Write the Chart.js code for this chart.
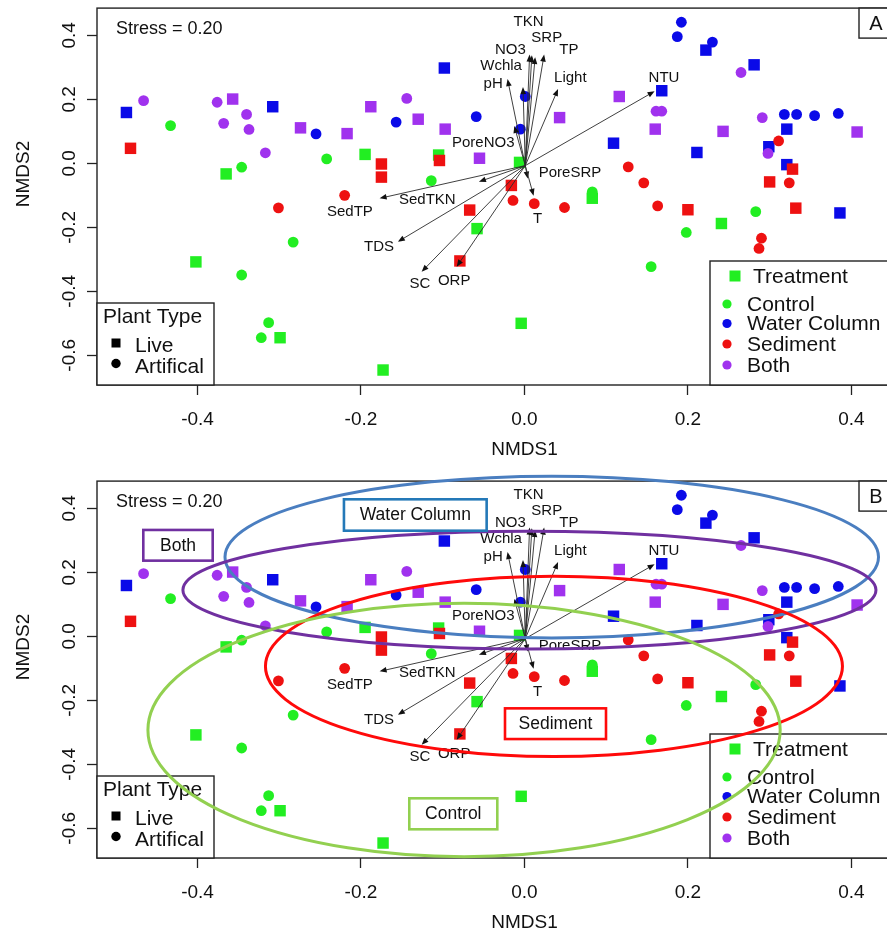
<!DOCTYPE html>
<html><head><meta charset="utf-8">
<script src="https://cdn.jsdelivr.net/npm/chart.js@4.4.1/dist/chart.umd.min.js"></script>
<style>
html,body{margin:0;padding:0;background:#fff;overflow:hidden;}
.wrap{position:absolute;left:0;width:887px;overflow:hidden;}
canvas{display:block;}
</style></head><body>
<div class="wrap" style="top:0;height:473px;"><canvas id="cA" width="960" height="473"></canvas></div>
<div class="wrap" style="top:473px;height:462px;"><canvas id="cB" width="960" height="462"></canvas></div>
<script>
// ---------------- DATA ----------------
const TREATMENTS = ['Control', 'Water Column', 'Sediment', 'Both'];
const PLANT_TYPES = ['Live', 'Artifical'];
const X_TICKS = [-0.4, -0.2, 0.0, 0.2, 0.4];
const X_TICK_LABELS = ['-0.4', '-0.2', '0.0', '0.2', '0.4'];
const Y_TICKS = [-0.6, -0.4, -0.2, 0.0, 0.2, 0.4];
const Y_TICK_LABELS = ['-0.6', '-0.4', '-0.2', '0.0', '0.2', '0.4'];
const STRESS = '0.20';

const controlLive = [[-0.365,-0.033],[-0.195,0.028],[-0.105,0.026],[-0.006,0.003],[-0.058,-0.204],[0.083,-0.109],[0.241,-0.188],[-0.402,-0.308],[-0.299,-0.545],[-0.173,-0.646],[-0.004,-0.500]];
const controlArtifical = [[-0.433,0.118],[-0.346,-0.012],[-0.242,0.014],[-0.114,-0.054],[0.083,-0.089],[-0.283,-0.246],[-0.346,-0.349],[-0.313,-0.498],[-0.322,-0.545],[0.283,-0.151],[0.198,-0.216],[0.155,-0.323]];
const waterLive = [[-0.487,0.159],[-0.308,0.177],[-0.098,0.298],[0.168,0.227],[0.222,0.354],[0.281,0.308],[0.109,0.063],[0.211,0.034],[0.321,0.107],[0.299,0.052],[0.321,-0.004],[0.386,-0.155]];
const waterArtifical = [[-0.255,0.092],[-0.157,0.129],[-0.059,0.146],[0.001,0.209],[-0.005,0.107],[0.192,0.441],[0.187,0.396],[0.230,0.379],[0.318,0.153],[0.333,0.153],[0.355,0.149],[0.384,0.156]];
const sedimentLive = [[-0.482,0.047],[-0.175,-0.002],[-0.175,-0.043],[-0.104,0.009],[-0.016,-0.069],[-0.067,-0.146],[-0.079,-0.305],[0.200,-0.145],[0.300,-0.058],[0.328,-0.018],[0.332,-0.140]];
const sedimentArtifical = [[-0.220,-0.100],[-0.301,-0.139],[-0.014,-0.116],[0.012,-0.126],[0.049,-0.138],[0.127,-0.011],[0.146,-0.061],[0.163,-0.133],[0.311,0.070],[0.324,-0.061],[0.290,-0.234],[0.287,-0.266]];
const bothLive = [[-0.357,0.201],[-0.274,0.111],[-0.217,0.093],[-0.188,0.177],[-0.130,0.138],[-0.097,0.107],[-0.055,0.016],[0.043,0.143],[0.116,0.209],[0.160,0.107],[0.243,0.100],[0.407,0.098]];
const bothArtifical = [[-0.466,0.196],[-0.376,0.191],[-0.340,0.153],[-0.368,0.125],[-0.337,0.106],[-0.317,0.033],[-0.144,0.203],[0.161,0.163],[0.168,0.163],[0.265,0.284],[0.291,0.143],[0.298,0.031]];

// environmental fit vectors
const ENV_VARS  = ['TKN','NO3','SRP','TP','Wchla','pH','Light','NTU','PoreNO3','PoreSRP','T','SedTKN','SedTP','TDS','SC','ORP'];
const ENV_ORIGIN = [0.001, -0.007];
const ENV_X = [0.0091, 0.0063, 0.0131, 0.0241, -0.0018, -0.0207, 0.0411, 0.1592, -0.0124, 0.0040, 0.0112, -0.0557, -0.1772, -0.1549, -0.1258, -0.0829];
const ENV_Y = [0.3380, 0.3400, 0.3320, 0.3400, 0.2384, 0.2634, 0.2322, 0.2253, 0.1166, -0.0475, -0.1013, -0.0575, -0.1094, -0.2450, -0.3388, -0.3231];
const ENV_LABEL_X = [0.0051, -0.0173, 0.0273, 0.0544, -0.0286, -0.0383, 0.0561, 0.1707, -0.0504, 0.0557, 0.0160, -0.1188, -0.2136, -0.1780, -0.1280, -0.0860];
const ENV_LABEL_Y = [0.4425, 0.3540, 0.3925, 0.3560, 0.3040, 0.2500, 0.2666, 0.2675, 0.0644, -0.0310, -0.1750, -0.1147, -0.1510, -0.2600, -0.3770, -0.3670];

// group ellipses (panel B): Water Column, Both, Sediment, Control
const ELLIPSE_GROUPS = ['Water Column', 'Both', 'Sediment', 'Control'];
const ELLIPSE_CX = [0.0334, 0.0061, 0.0361, -0.0739];
const ELLIPSE_CY = [0.2478, 0.1447, -0.0938, -0.2928];
const ELLIPSE_RX = [0.3998, 0.4240, 0.3530, 0.3868];
const ELLIPSE_RY = [0.2530, 0.1840, 0.2820, 0.3960];

// ---------------- STYLE / LAYOUT ----------------
const FONT = '"Liberation Sans", Arial, Helvetica, sans-serif';
const TEXT = '#111';
const COL = {'Control':'#22ee22', 'Water Column':'#0a0ae8', 'Sediment':'#ee1111', 'Both':'#a032ee'};
const ELL_COL = {'Water Column':'#4a7ec0', 'Both':'#7030a0', 'Sediment':'#ff0a0a', 'Control':'#92d050'};
const BOX_COL = {'Water Column':'#2479b8', 'Both':'#7030a0', 'Sediment':'#ff0a0a', 'Control':'#92d050'};
// group label boxes (pixel layout in panel B): [cx, cy, w, h]
const GROUP_BOXES = {'Water Column':[415.3,42,142.7,31.4], 'Both':[178,72.3,69.4,30.7], 'Sediment':[555.5,250.7,101,30.7], 'Control':[453.3,340.8,88,31]};

const X_MIN = -0.523, X_MAX = 0.523, Y_MIN = -0.6928, Y_MAX = 0.4853;

function txt(ctx, s, px, py, size, align, rot) {
  ctx.save();
  ctx.font = size + 'px ' + FONT;
  ctx.fillStyle = TEXT;
  ctx.textAlign = align || 'center';
  ctx.textBaseline = 'middle';
  ctx.translate(px, py);
  if (rot) ctx.rotate(rot);
  ctx.fillText(s, 0, 0);
  ctx.restore();
}

const nmdsPlugin = {
  id: 'nmds',
  afterDatasetsDraw(chart) {
    const {ctx, scales: {x, y}} = chart;
    const ox = x.getPixelForValue(ENV_ORIGIN[0]), oy = y.getPixelForValue(ENV_ORIGIN[1]);
    ctx.save();
    ctx.strokeStyle = '#2a2a2a'; ctx.fillStyle = '#111'; ctx.lineWidth = 0.9;
    ENV_VARS.forEach((n, i) => {
      const tx = x.getPixelForValue(ENV_X[i]), ty = y.getPixelForValue(ENV_Y[i]);
      const ang = Math.atan2(ty - oy, tx - ox);
      const L = 7, W = 2.8, c = Math.cos(ang), s = Math.sin(ang);
      ctx.beginPath(); ctx.moveTo(ox, oy); ctx.lineTo(tx - L * 0.6 * c, ty - L * 0.6 * s); ctx.stroke();
      ctx.beginPath();
      ctx.moveTo(tx, ty);
      ctx.lineTo(tx - L * c + W * s, ty - L * s - W * c);
      ctx.lineTo(tx - L * c - W * s, ty - L * s + W * c);
      ctx.closePath(); ctx.fill();
    });
    ctx.restore();
    ENV_VARS.forEach((n, i) => txt(ctx, n, x.getPixelForValue(ENV_LABEL_X[i]), y.getPixelForValue(ENV_LABEL_Y[i]), 15));
  },
  afterDraw(chart, args, opts) {
    const {ctx, chartArea: a, scales: {x, y}} = chart;
    // plot box
    ctx.save();
    ctx.strokeStyle = '#222'; ctx.lineWidth = 1.4;
    ctx.strokeRect(a.left, a.top, a.right - a.left, a.bottom - a.top);
    ctx.restore();
    // y tick labels (rotated, R style)
    Y_TICKS.forEach((v, i) => txt(ctx, Y_TICK_LABELS[i], 70, y.getPixelForValue(v), 19, 'center', -Math.PI / 2));
    // axis titles
    txt(ctx, 'NMDS1', x.getPixelForValue(0), 450, 19);
    txt(ctx, 'NMDS2', 24, 174, 19, 'center', -Math.PI / 2);
    // stress
    txt(ctx, 'Stress = ' + STRESS, 116, 29.3, 18, 'left');
    // panel letter box
    ctx.save();
    ctx.fillStyle = '#fff'; ctx.fillRect(859, a.top, 45, 30);
    ctx.strokeStyle = '#222'; ctx.lineWidth = 1.4; ctx.strokeRect(859, a.top, 45, 30);
    ctx.restore();
    txt(ctx, opts.letter, 876, 24, 20);

    // Plant Type legend
    ctx.save();
    ctx.fillStyle = '#fff'; ctx.fillRect(a.left, 303, 117, a.bottom - 303);
    ctx.strokeStyle = '#222'; ctx.lineWidth = 1.4; ctx.strokeRect(a.left, 303, 117, a.bottom - 303);
    ctx.fillStyle = '#000';
    ctx.fillRect(116 - 4.5, 343 - 4.5, 9, 9);
    ctx.beginPath(); ctx.arc(116, 363.5, 4.7, 0, Math.PI * 2); ctx.fill();
    ctx.restore();
    txt(ctx, 'Plant Type', 103, 317, 21, 'left');
    txt(ctx, PLANT_TYPES[0], 135, 346, 21, 'left');
    txt(ctx, PLANT_TYPES[1], 135, 367, 21, 'left');

    // Treatment legend
    ctx.save();
    ctx.fillStyle = '#fff'; ctx.fillRect(710, 261, a.right - 710, a.bottom - 261);
    ctx.strokeStyle = '#222'; ctx.lineWidth = 1.4; ctx.strokeRect(710, 261, a.right - 710, a.bottom - 261);
    ctx.fillStyle = COL['Control']; ctx.fillRect(735 - 5.5, 276 - 5.5, 11, 11);
    const ly = [304, 323.5, 344, 365];
    TREATMENTS.forEach((t, i) => {
      ctx.fillStyle = COL[t];
      ctx.beginPath(); ctx.arc(727, ly[i], 4.6, 0, Math.PI * 2); ctx.fill();
    });
    ctx.restore();
    txt(ctx, 'Treatment', 753, 277, 21, 'left');
    TREATMENTS.forEach((t, i) => txt(ctx, t, 747, ly[i] + 1, 21, 'left'));

    if (opts.ellipses) {
      ctx.save();
      ctx.lineWidth = 3;
      ELLIPSE_GROUPS.forEach((g, i) => {
        const cx = x.getPixelForValue(ELLIPSE_CX[i]), cy = y.getPixelForValue(ELLIPSE_CY[i]);
        const rx = Math.abs(x.getPixelForValue(ELLIPSE_CX[i] + ELLIPSE_RX[i]) - cx);
        const ry = Math.abs(y.getPixelForValue(ELLIPSE_CY[i] + ELLIPSE_RY[i]) - cy);
        ctx.strokeStyle = ELL_COL[g];
        ctx.beginPath(); ctx.ellipse(cx, cy, rx, ry, 0, 0, Math.PI * 2); ctx.stroke();
      });
      ctx.restore();
      Object.keys(GROUP_BOXES).forEach(g => {
        const [cx, cy, w, h] = GROUP_BOXES[g];
        ctx.save();
        ctx.fillStyle = '#fff'; ctx.fillRect(cx - w / 2, cy - h / 2, w, h);
        ctx.strokeStyle = BOX_COL[g]; ctx.lineWidth = 2.6; ctx.strokeRect(cx - w / 2, cy - h / 2, w, h);
        ctx.restore();
        txt(ctx, g, cx, cy + 0.5, 17.5);
      });
    }
  }
};

function makeDatasets() {
  const groups = [
    ['Sediment', sedimentLive, sedimentArtifical],
    ['Both', bothLive, bothArtifical],
    ['Water Column', waterLive, waterArtifical],
    ['Control', controlLive, controlArtifical]
  ];
  const ds = [];
  groups.forEach(([t, live, art]) => {
    ds.push({label: t + ' ' + PLANT_TYPES[1], data: art.map(p => ({x: p[0], y: p[1]})), pointStyle: 'circle', pointRadius: 5.4,
      backgroundColor: COL[t], borderWidth: 0, pointHoverRadius: 5.4});
    ds.push({label: t + ' ' + PLANT_TYPES[0], data: live.map(p => ({x: p[0], y: p[1]})), pointStyle: 'rect', pointRadius: 8.1,
      backgroundColor: COL[t], borderWidth: 0, pointHoverRadius: 8.1});
  });
  return ds;
}

function makeChart(id, letter, ellipses, xAxisH) {
  return new Chart(document.getElementById(id), {
    type: 'scatter',
    data: {datasets: makeDatasets()},
    options: {
      responsive: false, animation: false, devicePixelRatio: 1, events: [],
      layout: {padding: {left: 0, right: 2, top: 8, bottom: 0}},
      plugins: {legend: {display: false}, tooltip: {enabled: false}, nmds: {letter: letter, ellipses: ellipses}},
      scales: {
        x: {
          type: 'linear', min: X_MIN, max: X_MAX,
          afterBuildTicks: s => { s.ticks = X_TICKS.map(v => ({value: v})); },
          afterFit: s => { s.height = xAxisH; },
          grid: {drawOnChartArea: false, drawTicks: true, tickLength: 10, color: '#222', tickColor: '#222', tickWidth: 1.3},
          border: {display: false},
          ticks: {font: {family: FONT, size: 19}, color: TEXT, padding: 13, maxRotation: 0, autoSkip: false,
                  callback: (v, i) => X_TICK_LABELS[i]}
        },
        y: {
          type: 'linear', min: Y_MIN, max: Y_MAX,
          afterBuildTicks: s => { s.ticks = Y_TICKS.map(v => ({value: v})); },
          afterFit: s => { s.width = 97; },
          grid: {drawOnChartArea: false, drawTicks: true, tickLength: 10, color: '#222', tickColor: '#222', tickWidth: 1.3},
          border: {display: false},
          ticks: {display: false}
        }
      }
    },
    plugins: [nmdsPlugin]
  });
}

makeChart('cA', 'A', false, 473 - 385);
makeChart('cB', 'B', true, 462 - 385);
</script>
</body></html>
